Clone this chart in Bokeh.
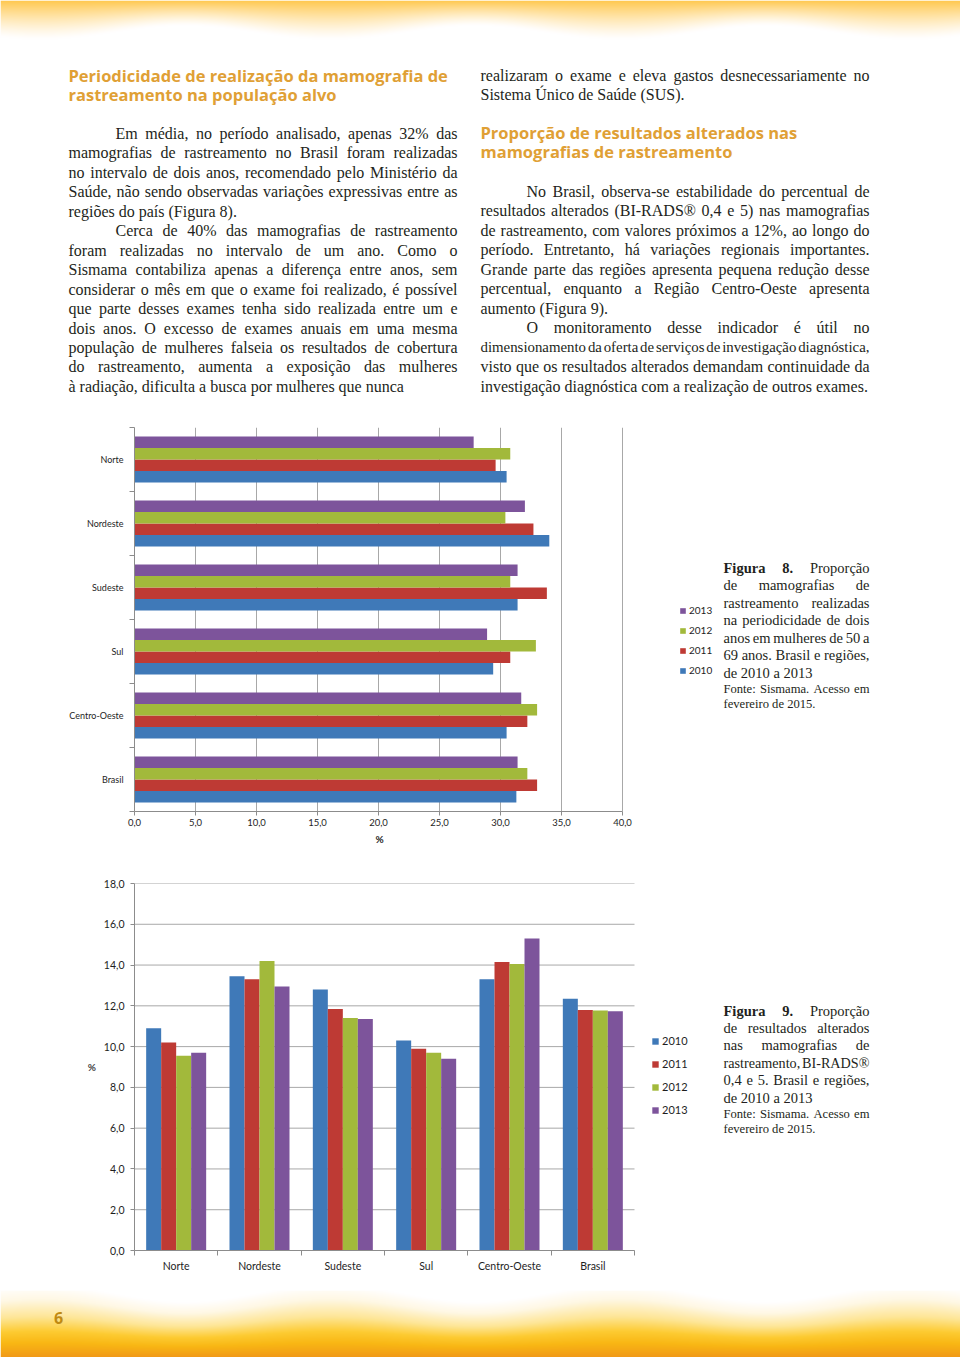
import unicodedata
import numpy as np
from bokeh.plotting import figure
from bokeh.layouts import column, row
from bokeh.models import (Range1d, FixedTicker, CustomJSTickFormatter, Legend,
                          LegendItem, ColumnDataSource, Title)
from bokeh.core.properties import value
from bokeh.embed import file_html
from bokeh.resources import INLINE

# ---------------------------------------------------------------- data
years = ["2010", "2011", "2012", "2013"]
regions = ["Norte", "Nordeste", "Sudeste", "Sul", "Centro-Oeste", "Brasil"]

# Figura 8 - % of screening mammograms done at two-year interval
fig8_2010 = [30.5, 34.0, 31.4, 29.4, 30.5, 31.3]
fig8_2011 = [29.6, 32.7, 33.8, 30.8, 32.2, 33.0]
fig8_2012 = [30.8, 30.4, 30.8, 32.9, 33.0, 32.2]
fig8_2013 = [27.8, 32.0, 31.4, 28.9, 31.7, 31.4]

# Figura 9 - % of altered results (BI-RADS 0, 4 and 5)
fig9_2010 = [10.9, 13.45, 12.8, 10.3, 13.3, 12.35]
fig9_2011 = [10.2, 13.3, 11.85, 9.9, 14.15, 11.8]
fig9_2012 = [9.55, 14.2, 11.4, 9.7, 14.05, 11.77]
fig9_2013 = [9.7, 12.95, 11.35, 9.4, 15.3, 11.73]

fig8_ticks = [0, 5, 10, 15, 20, 25, 30, 35, 40]
fig8_tick_labels = ["0,0", "5,0", "10,0", "15,0", "20,0", "25,0", "30,0", "35,0", "40,0"]
fig9_ticks = [0, 2, 4, 6, 8, 10, 12, 14, 16, 18]
fig9_tick_labels = ["0,0", "2,0", "4,0", "6,0", "8,0", "10,0", "12,0", "14,0", "16,0", "18,0"]

year_colors = ["#3F79B8", "#BE3A34", "#A2B93B", "#7D549B"]

fig8_series = [fig8_2010, fig8_2011, fig8_2012, fig8_2013]
fig9_series = [fig9_2010, fig9_2011, fig9_2012, fig9_2013]

# ---------------------------------------------------------------- text
left_heading = ["Periodicidade de realização da mamografia de",
                "rastreamento na população alvo"]
right_heading = ["Proporção de resultados alterados nas",
                 "mamografias de rastreamento"]

left_par = [
    ["Em média, no período analisado, apenas 32% das",
     "mamografias de rastreamento no Brasil foram realizadas",
     "no intervalo de dois anos, recomendado pelo Ministério da",
     "Saúde, não sendo observadas variações expressivas entre as",
     "regiões do país (Figura 8)."],
    ["Cerca de 40% das mamografias de rastreamento",
     "foram realizadas no intervalo de um ano. Como o",
     "Sismama contabiliza apenas a diferença entre anos, sem",
     "considerar o mês em que o exame foi realizado, é possível",
     "que parte desses exames tenha sido realizada entre um e",
     "dois anos. O excesso de exames anuais em uma mesma",
     "população de mulheres falseia os resultados de cobertura",
     "do rastreamento, aumenta a exposição das mulheres",
     "à radiação, dificulta a busca por mulheres que nunca"],
]
right_cont = ["realizaram o exame e eleva gastos desnecessariamente no",
              "Sistema Único de Saúde (SUS)."]
right_par = [
    ["No Brasil, observa-se estabilidade do percentual de",
     "resultados alterados (BI-RADS® 0,4 e 5) nas mamografias",
     "de rastreamento, com valores próximos a 12%, ao longo do",
     "período. Entretanto, há variações regionais importantes.",
     "Grande parte das regiões apresenta pequena redução desse",
     "percentual, enquanto a Região Centro-Oeste apresenta",
     "aumento (Figura 9)."],
    ["O monitoramento desse indicador é útil no",
     "dimensionamento da oferta de serviços de investigação diagnóstica,",
     "visto que os resultados alterados demandam continuidade da",
     "investigação diagnóstica com a realização de outros exames."],
]
cap8 = ["*Figura* *8.* Proporção", "de mamografias de", "rastreamento realizadas",
        "na periodicidade de dois", "anos em mulheres de 50 a",
        "69 anos. Brasil e regiões,", "de 2010 a 2013"]
cap9 = ["*Figura* *9.* Proporção", "de resultados alterados", "nas mamografias de",
        "rastreamento, BI-RADS®", "0,4 e 5. Brasil e regiões,", "de 2010 a 2013"]
fonte = ["Fonte: Sismama. Acesso em", "fevereiro de 2015."]

# Times-compatible advance widths (1/1000 em) used to justify lines
TR = {" ": 250, "%": 833, "(": 333, ")": 333, ",": 250, "-": 333, ".": 250, ":": 278,
      "®": 760, "A": 722, "B": 667, "C": 667, "D": 722, "E": 611, "F": 556, "G": 722,
      "H": 722, "I": 333, "J": 389, "K": 722, "L": 611, "M": 889, "N": 722, "O": 722,
      "P": 556, "Q": 722, "R": 667, "S": 556, "T": 611, "U": 722, "V": 722, "W": 944,
      "X": 722, "Y": 722, "Z": 611, "a": 444, "b": 500, "c": 444, "d": 500, "e": 444,
      "f": 333, "g": 500, "h": 500, "i": 278, "j": 278, "k": 500, "l": 278, "m": 778,
      "n": 500, "o": 500, "p": 500, "q": 500, "r": 333, "s": 389, "t": 278, "u": 500,
      "v": 500, "w": 722, "x": 500, "y": 500, "z": 444}
TB = {"F": 611, "i": 278, "g": 500, "u": 556, "r": 444, "a": 500, ".": 250}


def cw(c, bold):
    t = TB if bold else TR
    if c in t:
        return t[c]
    base = unicodedata.normalize("NFD", c)[0]
    if base in t:
        return t[base]
    if c.isdigit():
        return 500
    return TR.get(base, 500)


def wwidth(word, bold=False):
    return sum(cw(c, bold) for c in word) / 1000.0


def set_line(line, y, x0, x1, size, justify, out):
    words = []
    for w in line.split(" "):
        b = len(w) > 2 and w.startswith("*") and w.endswith("*")
        words.append((w.strip("*"), b))
    gaps = len(words) - 1
    nat = sum(wwidth(w, b) for w, b in words)
    avail = x1 - x0
    if nat * size + gaps * 0.12 * size > avail:
        size = avail / (nat + gaps * 0.12)
    if not justify and not any(b for _, b in words):
        out.append((x0, y, " ".join(w for w, _ in words), size, False))
        return
    gap = (avail - nat * size) / gaps if (justify and gaps > 0) else 0.25 * size
    x = x0
    for w, b in words:
        out.append((x, y, w, size, b))
        x += wwidth(w, b) * size + gap


def set_paragraphs(pars, y0, pitch, x0, x1, size, indent, out, first_cont=False):
    y = y0
    for pi, par in enumerate(pars):
        for li, line in enumerate(par):
            last = li == len(par) - 1
            xs = x0 + (indent if (li == 0 and not (first_cont and pi == 0)) else 0)
            set_line(line, y, xs, x1, size, not last, out)
            y += pitch
    return y


# ---------------------------------------------------------------- helpers
def base_fig(w, h, xr, yr, **kw):
    p = figure(width=w, height=h, x_range=xr, y_range=yr, output_backend="svg",
               toolbar_location=None, **kw)
    p.outline_line_color = None
    p.background_fill_color = "white"
    p.border_fill_color = "white"
    return p


def page_fig(w, h, x0, y0, top=0, bottom=0):
    # frame spans page rows y0+top .. y0+h-bottom, data y = -page y
    return base_fig(w, h, Range1d(x0, x0 + w), Range1d(-(y0 + h - bottom), -(y0 + top)),
                    x_axis_type=None, y_axis_type=None, min_border_left=0,
                    min_border_right=0, min_border_top=top, min_border_bottom=bottom)


def draw_words(p, items, font, color):
    for bold in (False, True):
        sel = [it for it in items if it[4] == bold]
        if not sel:
            continue
        src = ColumnDataSource(dict(x=[i[0] for i in sel], y=[-i[1] for i in sel],
                                    text=[i[2] for i in sel],
                                    fs=["%.2fpx" % i[3] for i in sel]))
        p.text(x="x", y="y", text="text", source=src, text_font=value(font),
               text_font_size=dict(field="fs"),
               text_font_style="bold" if bold else "normal",
               text_color=color, text_baseline="middle", text_align="left")


def rgba_image(rgb):
    h, w, _ = rgb.shape
    img = np.empty((h, w), dtype=np.uint32)
    v = img.view(dtype=np.uint8).reshape((h, w, 4))
    v[..., 0] = np.clip(rgb[..., 0], 0, 255)
    v[..., 1] = np.clip(rgb[..., 1], 0, 255)
    v[..., 2] = np.clip(rgb[..., 2], 0, 255)
    v[..., 3] = 255
    return np.ascontiguousarray(np.flipud(img))


def label_formatter(tick_values, tick_labels):
    return CustomJSTickFormatter(
        args=dict(tv=tick_values, tl=tick_labels),
        code="const i = tv.indexOf(tick); return i >= 0 ? tl[i] : '';")


SERIF = "Liberation Serif"
TXT = "#231F20"
GOLD = "#E0A035"
AX = "#8C8C8C"
GRID = "#A8A8A8"

# ---------------------------------------------------------------- top text block
top = page_fig(960, 420, 0, 0)
HH = 48
xs = np.arange(960)[None, :]
ys = np.arange(HH)[:, None] + 0.5
bnd = 32 - 7 * np.cos(2 * np.pi * (xs - 184) / 290)
t = np.clip(ys / bnd, 0, 1)
f = (1 - t) ** 1.3
topc = np.array([255.0, 200.0, 78.0])
rgb = 255 + (topc - 255)[None, None, :] * f[..., None]
top.image_rgba(image=[rgba_image(rgb)], x=0, y=-HH, dw=960, dh=HH)

words = []
set_paragraphs(left_par, 133, 19.45, 68, 457, 16, 47, words)
set_paragraphs([right_cont], 75, 19.3, 480, 869, 16, 0, words, first_cont=True)
set_paragraphs(right_par, 191, 19.45, 480, 869, 16, 46, words)
draw_words(top, words, SERIF, TXT)

head_src = ColumnDataSource(dict(x=[68, 68, 480, 480], y=[-75, -94, -132, -151],
                                 text=left_heading + right_heading))
top.text(x="x", y="y", text="text", source=head_src, text_font=value("Open Sans"),
         text_font_size="16.5px", text_font_style="bold", text_color=GOLD,
         text_baseline="middle", text_align="left")

# ---------------------------------------------------------------- Figura 8
# frame runs 134 -> 720 px; the value axis 0..40 occupies 134 -> 622 px,
# the remaining frame room holds the legend
P1_TOP, P1_BOT = 7, 49
x8_max = fig8_ticks[-1] * (720 - 134) / (622 - 134)
p1 = base_fig(720, 440, Range1d(0, x8_max), Range1d(0, 6),
              min_border_left=134, min_border_right=0, min_border_top=P1_TOP,
              min_border_bottom=P1_BOT)
n = len(regions)
off8 = [-0.27, -0.09, 0.09, 0.27]
r8 = []
for k, (yr, vals, col) in enumerate(zip(years, fig8_series, year_colors)):
    src = ColumnDataSource(dict(region=regions,
                                pos=[n - 0.5 - i + off8[k] for i in range(n)],
                                val=vals))
    r8.append(p1.hbar(y="pos", left=0, right="val", height=0.18, source=src,
                      fill_color=col, line_color=None))

p1.xaxis.ticker = FixedTicker(ticks=fig8_ticks)
p1.xaxis.formatter = label_formatter(fig8_ticks, fig8_tick_labels)
p1.xaxis.bounds = (fig8_ticks[0], fig8_ticks[-1])
p1.yaxis.ticker = FixedTicker(ticks=[n - 0.5 - i for i in range(n)],
                              minor_ticks=list(range(n + 1)))
p1.yaxis.formatter = label_formatter([n - 0.5 - i for i in range(n)], regions)
p1.xgrid.grid_line_color = GRID
p1.ygrid.grid_line_color = None
for ax in (p1.xaxis[0], p1.yaxis[0]):
    ax.axis_line_color = AX
    ax.major_label_text_font = "Lato"
    ax.major_label_text_color = "#1E1E1E"
p1.xaxis.major_label_text_font_size = "9.5px"
p1.yaxis.major_label_text_font_size = "9px"
p1.xaxis.major_tick_line_color = AX
p1.xaxis.major_tick_out = 4
p1.xaxis.major_tick_in = 0
p1.xaxis.minor_tick_line_color = None
p1.xaxis.major_label_standoff = 3
p1.yaxis.major_tick_line_color = None
p1.yaxis.major_tick_out = 0
p1.yaxis.major_tick_in = 0
p1.yaxis.major_label_standoff = 6
p1.yaxis.minor_tick_line_color = AX
p1.yaxis.minor_tick_out = 5
p1.yaxis.minor_tick_in = 0
# value-axis title "%", centred under the 0..40 span (x = 379 px on the page)
p1.add_layout(Title(text="%", align="left", offset=241, standoff=8,
                    vertical_align="top", text_font="Lato", text_font_size="10px",
                    text_font_style="bold", text_color="#1E1E1E"), "below")

leg1 = Legend(items=[LegendItem(label=years[k], renderers=[r8[k]]) for k in (3, 2, 1, 0)],
              location=(545, 135), orientation="vertical",
              glyph_width=7, glyph_height=7, label_height=10, label_standoff=3,
              label_text_font="Lato", label_text_font_size="10px",
              label_text_color="#1E1E1E", spacing=8, padding=0, margin=0,
              border_line_color=None, background_fill_alpha=0)
p1.add_layout(leg1)

cap1 = page_fig(240, 440, 720, 420, top=P1_TOP, bottom=P1_BOT)
cw1 = []
set_paragraphs([cap8], 567, 17.5, 723, 869, 14.5, 0, cw1)
set_paragraphs([fonte], 688, 15.3, 723, 869, 12.6, 0, cw1)
draw_words(cap1, cw1, SERIF, TXT)

# ---------------------------------------------------------------- Figura 9
# frame runs 134 -> 720 px; the six categories occupy 134 -> 634 px
P2_TOP, P2_BOT = 23, 40
x9_max = n * (720 - 134) / (634 - 134)
p2 = base_fig(720, 430, Range1d(0, x9_max), Range1d(fig9_ticks[0], fig9_ticks[-1]),
              min_border_left=134, min_border_right=0, min_border_top=P2_TOP,
              min_border_bottom=P2_BOT)
# horizontal gridlines, limited to the category area
p2.segment(x0=0, x1=n, y0=fig9_ticks, y1=fig9_ticks, line_color=GRID, line_width=1,
           level="underlay")
off9 = [-0.27, -0.09, 0.09, 0.27]
r9 = []
for k, (yr, vals, col) in enumerate(zip(years, fig9_series, year_colors)):
    src = ColumnDataSource(dict(region=regions,
                                pos=[i + 0.5 + off9[k] for i in range(n)],
                                val=vals))
    r9.append(p2.vbar(x="pos", bottom=0, top="val", width=0.18, source=src,
                      fill_color=col, line_color=None))

p2.yaxis.ticker = FixedTicker(ticks=fig9_ticks)
p2.yaxis.formatter = label_formatter(fig9_ticks, fig9_tick_labels)
p2.xaxis.ticker = FixedTicker(ticks=[i + 0.5 for i in range(n)],
                              minor_ticks=list(range(n + 1)))
p2.xaxis.formatter = label_formatter([i + 0.5 for i in range(n)], regions)
p2.xaxis.bounds = (0, n)
p2.ygrid.grid_line_color = None
p2.xgrid.grid_line_color = None
for ax in (p2.xaxis[0], p2.yaxis[0]):
    ax.axis_line_color = AX
    ax.major_label_text_font = "Lato"
    ax.major_label_text_font_size = "10.5px"
    ax.major_label_text_color = "#1E1E1E"
p2.yaxis.major_tick_line_color = AX
p2.yaxis.major_tick_out = 4
p2.yaxis.major_tick_in = 0
p2.yaxis.minor_tick_line_color = None
p2.yaxis.major_label_standoff = 6
p2.yaxis.axis_label = "%"
p2.yaxis.axis_label_text_font = "Lato"
p2.yaxis.axis_label_text_font_size = "10px"
p2.yaxis.axis_label_text_font_style = "bold"
p2.yaxis.axis_label_standoff = 5
if "axis_label_orientation" in p2.yaxis[0].properties():
    p2.yaxis.axis_label_orientation = "horizontal"
p2.xaxis.major_tick_line_color = None
p2.xaxis.major_tick_out = 0
p2.xaxis.major_tick_in = 0
p2.xaxis.major_label_standoff = 4
p2.xaxis.minor_tick_line_color = AX
p2.xaxis.minor_tick_out = 5
p2.xaxis.minor_tick_in = 0

leg2 = Legend(items=[LegendItem(label=years[k], renderers=[r9[k]]) for k in (0, 1, 2, 3)],
              location=(517, 134), orientation="vertical",
              glyph_width=8, glyph_height=8, label_height=11, label_standoff=3,
              label_text_font="Lato", label_text_font_size="11px",
              label_text_color="#1E1E1E", spacing=10, padding=0, margin=0,
              border_line_color=None, background_fill_alpha=0)
p2.add_layout(leg2)

cap2 = page_fig(240, 430, 720, 860, top=P2_TOP, bottom=P2_BOT)
cw2 = []
set_paragraphs([cap9], 1010, 17.4, 723, 869, 14.5, 0, cw2)
set_paragraphs([fonte], 1113, 15.5, 723, 869, 12.6, 0, cw2)
draw_words(cap2, cw2, SERIF, TXT)

# ---------------------------------------------------------------- footer
foot = page_fig(960, 67, 0, 1290)
FH = 67
ysf = 1290 + np.arange(FH)[:, None] + 0.5
bndf = 1306 + 7 * np.cos(2 * np.pi * (xs - 184) / 290)
tf = (ysf - bndf) / (1357 - bndf)
st = [-0.25, 0.0, 0.3, 0.55, 0.75, 1.0]
sc = np.array([(255, 255, 255), (255, 248, 228), (254, 230, 150), (253, 203, 50),
               (249, 183, 20), (241, 152, 24)], dtype=float)
rgbf = np.stack([np.interp(tf, st, sc[:, c]) for c in range(3)], axis=-1)
foot.image_rgba(image=[rgba_image(rgbf)], x=0, y=-1357, dw=960, dh=FH)
foot.text(x=[58], y=[-1317], text=["6"], text_font=value("Open Sans"),
          text_font_size="16px", text_font_style="bold", text_color="#C08A12",
          text_baseline="middle", text_align="center")

layout = column(top, row(p1, cap1), row(p2, cap2), foot)
with open("out.html", "w", encoding="utf-8") as fh:
    fh.write(file_html(layout, INLINE, title="Mamografias de rastreamento"))
